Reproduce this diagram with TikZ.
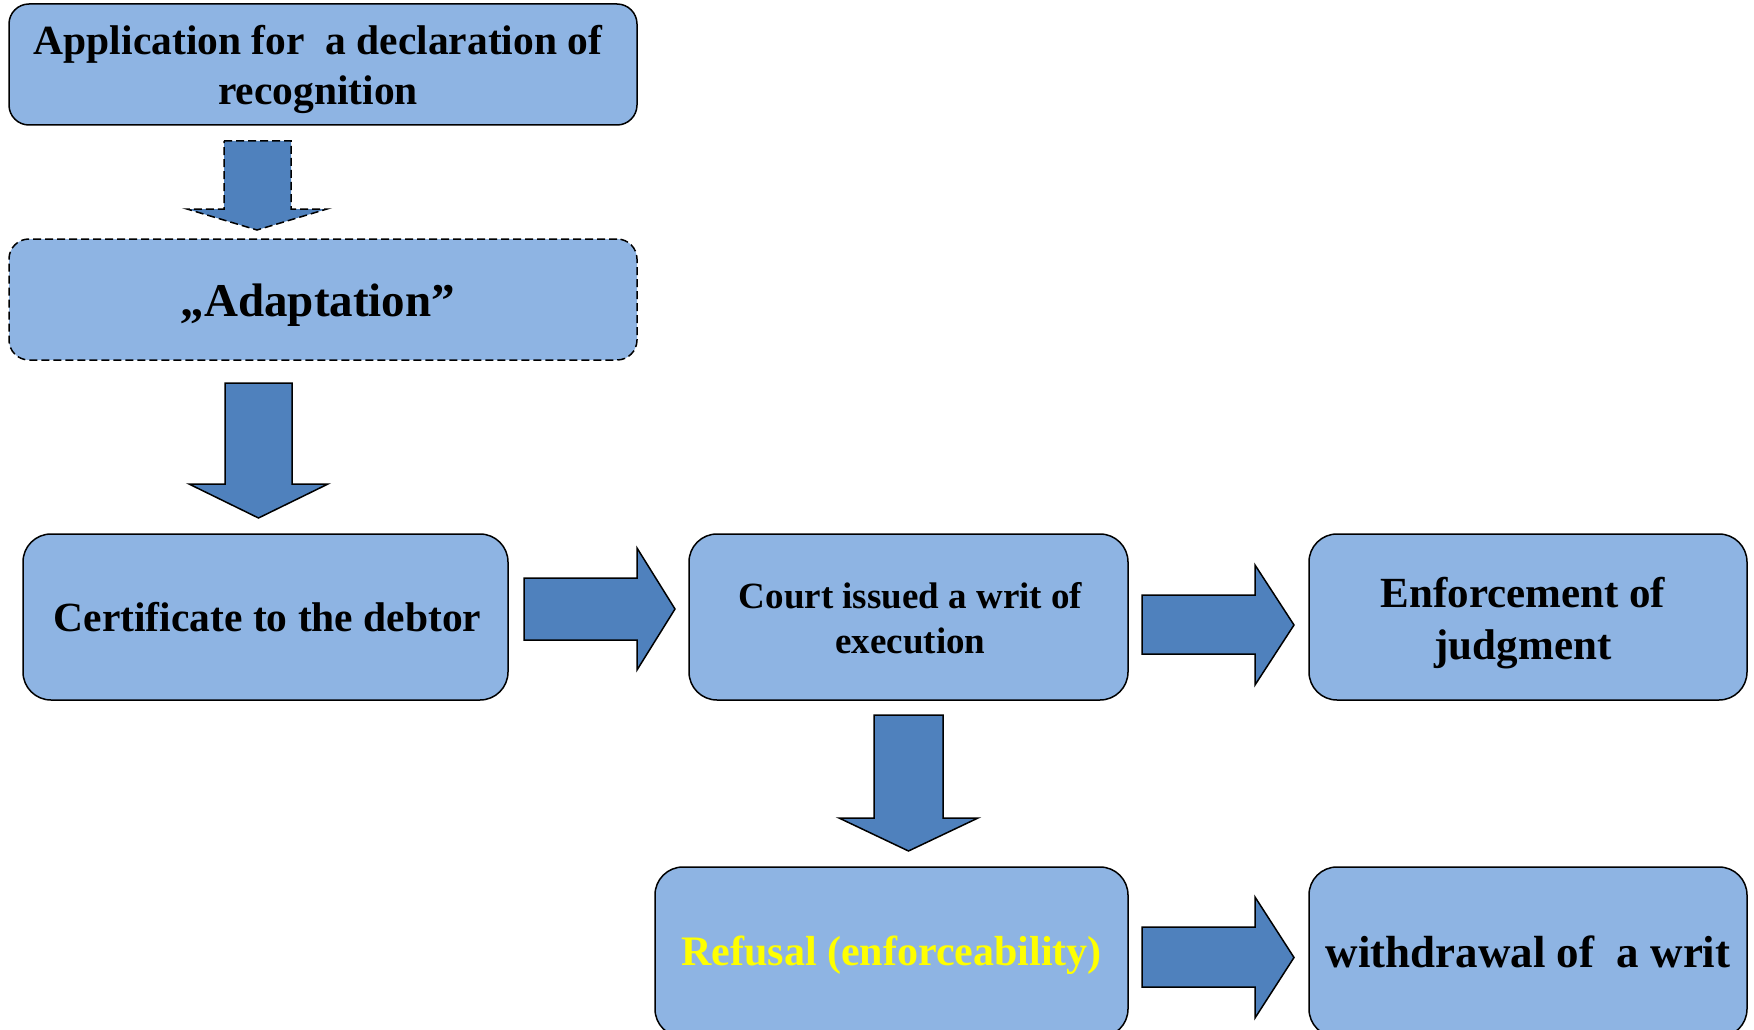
\documentclass[tikz,border=0pt]{standalone}
\usepackage{fontspec}
\setmainfont{Liberation Serif}
\definecolor{boxblue}{HTML}{8EB4E3}
\definecolor{arrowblue}{HTML}{4F81BD}
\definecolor{warnyellow}{HTML}{FFFF00}
\begin{document}
\begin{tikzpicture}[x=1pt,y=-1pt,
  stepbox/.style={draw=black, line width=1.5pt, fill=boxblue, rectangle,
    rounded corners=28pt, inner sep=0pt},
  label/.style={align=center, inner sep=0pt, text=black},
  blk/.style={draw=black, line width=1.5pt, fill=arrowblue, line join=miter},
  dashline/.style={dash pattern=on 8pt off 4pt}]
\useasboundingbox (0,0) rectangle (1754,1030);
\clip (0,0) rectangle (1754,1030);

% process boxes
\node[stepbox, rounded corners=20pt, minimum width=628pt, minimum height=121pt]
  (app) at (323,64.5) {};
\node[stepbox, dashline, rounded corners=20pt, minimum width=628pt, minimum height=121pt]
  (adapt) at (323,299.5) {};
\node[stepbox, minimum width=485pt, minimum height=166pt] (cert) at (265.5,617) {};
\node[stepbox, minimum width=439pt, minimum height=166pt] (court) at (908.5,617) {};
\node[stepbox, minimum width=438pt, minimum height=166pt] (enf) at (1528,617) {};
\node[stepbox, minimum width=473pt, minimum height=170pt] (refusal) at (891.5,952) {};
\node[stepbox, minimum width=438pt, minimum height=170pt] (withdraw) at (1528,952) {};

% box texts
\node[label, font=\fontsize{41.5}{50}\selectfont\bfseries] (appText)
  at ([shift={(-5,5)}]app.center) {Application for~ a declaration of\\recognition};
\node[label, font=\fontsize{47}{54}\selectfont\bfseries] (adaptText)
  at ([shift={(-5,6)}]adapt.center) {„Adaptation”};
\node[label, font=\fontsize{41.5}{48}\selectfont\bfseries] (certText)
  at ([shift={(2,0)}]cert.center) {Certificate to the debtor};
\node[label, font=\fontsize{37}{45}\selectfont\bfseries] (courtText)
  at ([shift={(2,1)}]court.center) {Court issued a writ of\\execution};
\node[label, font=\fontsize{43}{52}\selectfont\bfseries] (enfText)
  at ([shift={(-5,6)}]enf.center) {Enforcement of\\judgment};
\node[label, font=\fontsize{42}{50}\selectfont\bfseries, text=warnyellow] (refusalText)
  at ([shift={(0,3)}]refusal.center) {Refusal (enforceability)};
\node[label, font=\fontsize{45}{52}\selectfont\bfseries] (withdrawText)
  at (withdraw.center) {withdrawal of~ a writ};

% block arrows between the boxes
\draw[blk, dashline] (224,141) -- (291,141) -- (291,209) -- (327,209)
  -- (257,230) -- (187,209) -- (224,209) -- cycle;
\draw[blk] (225,383) -- (292,383) -- (292,484) -- (328,484)
  -- (258.5,518) -- (189,484) -- (225,484) -- cycle;
\draw[blk] (524,578) -- (637,578) -- (637,548) -- (675,609)
  -- (637,670) -- (637,640) -- (524,640) -- cycle;
\draw[blk] (1142,595) -- (1255,595) -- (1255,565) -- (1294,625)
  -- (1255,685) -- (1255,654) -- (1142,654) -- cycle;
\draw[blk] (874,715) -- (943,715) -- (943,818) -- (978,818)
  -- (908.5,851) -- (839,818) -- (874,818) -- cycle;
\draw[blk] (1142,927) -- (1255,927) -- (1255,897) -- (1294,957.5)
  -- (1255,1018) -- (1255,987) -- (1142,987) -- cycle;
\end{tikzpicture}
\end{document}
